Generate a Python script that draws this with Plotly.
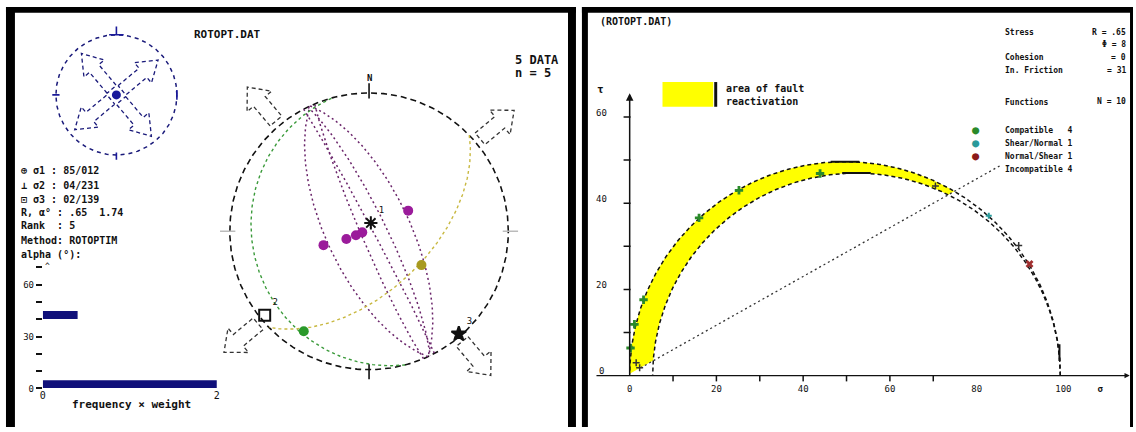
import numpy as np
import plotly.graph_objects as go

W, H = 1136, 432
def PX(x): return x / W
def PY(y): return 1 - y / H

# ---------------- DATA ----------------
# stereonet: fault planes (dip direction, dip) in degrees
magenta_dipdir = [65, 62, 247, 245, 64]
magenta_dip = [66, 88, 85, 65, 80]
green_plane_dipdir, green_plane_dip = 255, 17
yellow_plane_dipdir, yellow_plane_dip = 136, 55
# slip lines (trend, plunge)
magenta_pt_trend = [62, 253, 251, 261, 253]
magenta_pt_plunge = [64, 82, 76, 86, 62]
green_pt_trend, green_pt_plunge = [213], [15]
olive_pt_trend, olive_pt_plunge = [123], [53]
# principal stress axes (trend, plunge)
stress_names = ["1", "2", "3"]
stress_trend = [12, 231, 139]
stress_plunge = [85, 4, 2]
# horizontal stress arrows (azimuths)
arrow_az = [320, 50, 230, 140]

# histogram of misfit angle
hist_alpha = [2.5, 42.5]
hist_freq = [2.0, 0.4]
hist_yticks = [0, 10, 20, 30, 40, 50, 60, 70]
hist_yticktext = ["0", "", "", "30", "", "", "60", ""]

# Mohr diagram
sigma3, sigma1 = 0.0, 99.3
sigma_inner = 5.3
friction_mu, cohesion = 0.566, 0.37
friction_x = [2.5, 85.5]
compat_sn = [0.2, 1.1, 3.2, 16.0, 25.2, 43.9]
compat_tau = [6.4, 11.9, 17.6, 36.6, 43.0, 46.9]
shearnorm_sn, shearnorm_tau = [82.8], [37.1]
normshear_sn, normshear_tau = [92.2], [25.9]
incompat_sn = [89.7, 2.3, 1.5, 70.5]
incompat_tau = [30.2, 1.8, 3.0, 44.0]
mohr_xticks = [10, 20, 30, 40, 50, 60, 70]
mohr_yticks = [10, 20, 30, 40, 50, 60]
mohr_xlabels = [0, 20, 40, 60, 80, 100]
mohr_ylabels = [0, 20, 40, 60]
legend_labels = ["Compatible   4", "Shear/Normal 1", "Normal/Shear 1", "Incompatible 4"]
legend_colors = ["#2a8a2a", "#2a9a9a", "#8b1a1a", None]

text_block = ["⊕ σ1 : 85/012", "⊥ σ2 : 04/231", "⊡ σ3 : 02/139",
              "R, α° : .65  1.74", "Rank  : 5", "Method: ROTOPTIM", "alpha (°):"]
text_block_y = [173, 188, 202, 215, 228, 243, 257]
stats_left = ["Stress", "", "Cohesion", "In. Friction", "Functions"]
stats_right = ["R = .65", "Φ = 8", "= 0", "= 31", "N = 10"]
stats_y = [33, 45, 58, 71, 103]

# ---------------- geometry helpers ----------------
def proj(trend, plunge):
    t = np.radians(np.asarray(trend, float)); p = np.radians(np.asarray(plunge, float))
    r = np.sqrt(2) * np.sin((np.pi / 2 - p) / 2)
    return r * np.sin(t), r * np.cos(t)

def great_circle(dd, dip, n=181):
    t = np.linspace(0, np.pi, n)
    d, q = np.radians(dd), np.radians(dip)
    sE, sN = np.sin(d - np.pi / 2), np.cos(d - np.pi / 2)
    dE, dN, dD = np.sin(d) * np.cos(q), np.cos(d) * np.cos(q), np.sin(q)
    E = np.cos(t) * sE + np.sin(t) * dE
    N = np.cos(t) * sN + np.sin(t) * dN
    D = np.sin(t) * dD
    tr = np.degrees(np.arctan2(E, N)); pl = np.degrees(np.arcsin(np.clip(D, -1, 1)))
    return proj(tr, pl)

def block_arrow(az, r0, r1, w, hw):
    L = r1 - r0
    u = np.array([0, 0.58 * L, 0.58 * L, L, 0.58 * L, 0.58 * L, 0, 0]) + r0
    v = np.array([-w, -w, -hw, 0, hw, w, w, -w])
    a = np.radians(az)
    x = u * np.sin(a) + v * np.cos(a)
    y = u * np.cos(a) - v * np.sin(a)
    return x, y

fig = go.Figure()
STEREO = dict(xaxis="x", yaxis="y")
SMALL = dict(xaxis="x2", yaxis="y2")
HIST = dict(xaxis="x3", yaxis="y3")
MOHR = dict(xaxis="x4", yaxis="y4")
th = np.linspace(0, 2 * np.pi, 361)

# ---------------- stereonet ----------------
fig.add_trace(go.Scatter(x=np.cos(th), y=np.sin(th), mode="lines",
                         line=dict(color="#111", width=1.6, dash="6px,4px"), **STEREO))
for dd, dp in zip(magenta_dipdir, magenta_dip):
    x, y = great_circle(dd, dp)
    fig.add_trace(go.Scatter(x=x, y=y, mode="lines",
                             line=dict(color="#6a246a", width=1.5, dash="2px,3px"), **STEREO))
x, y = great_circle(green_plane_dipdir, green_plane_dip)
fig.add_trace(go.Scatter(x=x, y=y, mode="lines", line=dict(color="#3a9a3a", width=1.4, dash="3px,3px"), **STEREO))
x, y = great_circle(yellow_plane_dipdir, yellow_plane_dip)
fig.add_trace(go.Scatter(x=x, y=y, mode="lines", line=dict(color="#c8b840", width=1.4, dash="3px,3px"), **STEREO))
# arrows
for az in arrow_az:
    x, y = block_arrow(az, 1.04, 1.36, 0.055, 0.115)
    fig.add_trace(go.Scatter(x=x, y=y, mode="lines",
                             line=dict(color="#333", width=1.3, dash="4px,3px"), **STEREO))
# N / S / E / W ticks
for az in [0, 180, 90, 270]:
    a = np.radians(az)
    col = "#111" if az in (0, 180) else "#bbb"
    fig.add_trace(go.Scatter(x=[0.96 * np.sin(a), 1.07 * np.sin(a)], y=[0.96 * np.cos(a), 1.07 * np.cos(a)],
                             mode="lines", line=dict(color=col, width=1.6), **STEREO))
# points
x, y = proj(magenta_pt_trend, magenta_pt_plunge)
fig.add_trace(go.Scatter(x=x, y=y, mode="markers", marker=dict(color="#9b1b9b", size=10), **STEREO))
x, y = proj(green_pt_trend, green_pt_plunge)
fig.add_trace(go.Scatter(x=x, y=y, mode="markers", marker=dict(color="#2a9a2a", size=10), **STEREO))
x, y = proj(olive_pt_trend, olive_pt_plunge)
fig.add_trace(go.Scatter(x=x, y=y, mode="markers", marker=dict(color="#a89a20", size=10), **STEREO))
x, y = proj(stress_trend, stress_plunge)
fig.add_trace(go.Scatter(x=x, y=y, mode="markers+text", text=stress_names, textposition="top right",
                         textfont=dict(size=9, color="#111", family="DejaVu Sans Mono"),
                         marker=dict(color="#111", size=11, symbol=["asterisk-open", "square-open", "star"],
                                     line=dict(width=2, color="#111")), **STEREO))

# ---------------- small circle ----------------
fig.add_trace(go.Scatter(x=np.cos(th), y=np.sin(th), mode="lines",
                         line=dict(color="#1a1a7a", width=1.5, dash="4px,4px"), **SMALL))
for az in arrow_az:
    x, y = block_arrow(az, 0.12, 0.9, 0.1, 0.22)
    fig.add_trace(go.Scatter(x=x, y=y, mode="lines",
                             line=dict(color="#1a1a7a", width=1.3, dash="4px,3px"), **SMALL))
fig.add_trace(go.Scatter(x=[0], y=[0], mode="markers", marker=dict(color="#1a1a9a", size=9), **SMALL))
fig.add_trace(go.Scatter(x=[-0.12, 0.12, None, 0, 0, None, 1.0, 1.0, None, 0, 0, None, -1.06, -0.94],
                         y=[1.0, 1.0, None, 1.0, 1.14, None, -0.08, 0.08, None, -0.96, -1.08, None, 0, 0],
                         mode="lines", line=dict(color="#1a1a9a", width=1.6), **SMALL))

# ---------------- histogram ----------------
fig.add_trace(go.Bar(x=hist_freq, y=hist_alpha, orientation="h", width=4.6,
                     marker=dict(color="#10107a", line=dict(width=0)), **HIST))

# ---------------- Mohr ----------------
c_o, r_o = (sigma1 + sigma3) / 2, (sigma1 - sigma3) / 2
c_i, r_i = (sigma1 + sigma_inner) / 2, (sigma1 - sigma_inner) / 2
tt = np.linspace(0, np.pi, 721)
xo, yo = c_o + r_o * np.cos(tt), r_o * np.sin(tt)
xi, yi = c_i + r_i * np.cos(tt), r_i * np.sin(tt)
mo = yo >= friction_mu * xo + cohesion
mi = yi >= friction_mu * xi + cohesion
fig.add_trace(go.Scatter(x=np.r_[xo[mo], xi[mi][::-1]], y=np.r_[yo[mo], yi[mi][::-1]], fill="toself",
                         fillcolor="#ffff00", mode="none", **MOHR))
fig.add_trace(go.Scatter(x=xo, y=yo, mode="lines", line=dict(color="#111", width=1.5, dash="4px,3px"), **MOHR))
fig.add_trace(go.Scatter(x=xi, y=yi, mode="lines", line=dict(color="#111", width=1.5, dash="4px,3px"), **MOHR))
fx = np.array(friction_x)
fig.add_trace(go.Scatter(x=fx, y=friction_mu * fx + cohesion, mode="lines",
                         line=dict(color="#333", width=1.3, dash="2px,3px"), **MOHR))
fig.add_trace(go.Scatter(x=[c_o - 3.3, c_o + 3.3, None, c_i - 3.3, c_i + 3.3, None, sigma1 - 0.2, sigma1 - 0.2],
                         y=[r_o, r_o, None, r_i, r_i, None, 3.4, 7.3], mode="lines",
                         line=dict(color="#111", width=2), **MOHR))
fig.add_trace(go.Scatter(x=compat_sn, y=compat_tau, mode="markers",
                         marker=dict(color="#2a8a2a", size=7, symbol="cross"), **MOHR))
fig.add_trace(go.Scatter(x=shearnorm_sn, y=shearnorm_tau, mode="markers",
                         marker=dict(color="#2a9a9a", size=5, symbol="cross"), **MOHR))
fig.add_trace(go.Scatter(x=normshear_sn, y=normshear_tau, mode="markers",
                         marker=dict(color="#a03030", size=7, symbol="x"), **MOHR))
fig.add_trace(go.Scatter(x=incompat_sn, y=incompat_tau, mode="markers",
                         marker=dict(color="#333", size=5, symbol="cross-thin-open", line=dict(width=1.5, color="#333")), **MOHR))
fig.add_trace(go.Scatter(x=mohr_xticks, y=[-0.75] * len(mohr_xticks), mode="markers",
                         marker=dict(symbol="line-ns", size=4, line=dict(width=1.5, color="#111")), **MOHR))
fig.add_trace(go.Scatter(x=[-0.6] * len(mohr_yticks), y=mohr_yticks, mode="markers",
                         marker=dict(symbol="line-ew", size=5, line=dict(width=1.5, color="#111")), **MOHR))

# ---------------- annotations ----------------
ann = []
MONO = "DejaVu Sans Mono"
def txt(x, y, s, size=9, anchor="left", color="#111", bold=False, family=MONO):
    ann.append(dict(x=PX(x), y=PY(y), xref="paper", yref="paper", text=("<b>%s</b>" % s) if bold else s,
                    showarrow=False, xanchor=anchor, yanchor="middle",
                    font=dict(size=size, color=color, family=family)))

txt(190, 35, "ROTOPT.DAT", 11, bold=True)
txt(513, 61, "5 DATA", 12, bold=True)
txt(513, 74, "n = 5", 12, bold=True)
for s, yy in zip(text_block, text_block_y):
    txt(16, yy, s, 10, bold=True)
txt(67, 409, "frequency × weight", 11, bold=True)
txt(40, 270, "^", 8)
txt(368, 79, "N", 9, anchor="center", bold=True)

txt(598, 22, "(ROTOPT.DAT)", 10, bold=True)
txt(725, 90, "area of fault", 10, bold=True)
txt(725, 103, "reactivation", 10, bold=True)
for a, b, yy in zip(stats_left, stats_right, stats_y):
    txt(1005, yy, a, 8, bold=True)
    txt(1131, yy, b, 8, anchor="right", bold=True)
for lab, col, i in zip(legend_labels, legend_colors, range(4)):
    yy = 132 + 13 * i
    if col:
        txt(978, yy, "●", 12, anchor="center", color=col)
    txt(1005, yy, lab, 8, bold=True)

# Mohr y tick labels (data coords, inside range)
for v in mohr_ylabels:
    ann.append(dict(x=-6.5, y=v + 1.0, xref="x4", yref="y4", text=str(v), showarrow=False,
                    font=dict(size=9, family=MONO, color="#111")))
ann.append(dict(x=-6.8, y=66.5, xref="x4", yref="y4", text="<b>τ</b>", showarrow=False,
                font=dict(size=11, family=MONO, color="#111")))
# axis arrows
ann.append(dict(x=0, y=65.5, ax=0, ay=0, xref="x4", yref="y4", axref="x4", ayref="y4", text="",
                showarrow=True, arrowhead=2, arrowsize=1, arrowwidth=1.5, arrowcolor="#111"))
ann.append(dict(x=115.3, y=0, ax=-8, ay=0, xref="x4", yref="y4", axref="x4", ayref="y4", text="",
                showarrow=True, arrowhead=2, arrowsize=0.8, arrowwidth=1.3, arrowcolor="#111"))

# ---------------- frames ----------------
shapes = []
def rect(x0, y0, x1, y1, color="#000", line=None):
    d = dict(type="rect", xref="paper", yref="paper", x0=PX(x0), x1=PX(x1), y0=PY(y1), y1=PY(y0),
             fillcolor=color, layer="above")
    d["line"] = dict(width=0) if line is None else line
    shapes.append(d)
rect(3, 7, 12, 432)
rect(3, 7, 576, 13)
rect(568, 7, 576, 432)
rect(582, 7, 588, 432)
rect(582, 7, 1136, 13)
rect(1133, 7, 1136, 432)
# legend swatch
rect(663, 83, 714, 108, "#ffff00")
rect(715, 83, 718, 108, "#111")

def ax(dom, rng, anchor, visible=False, **kw):
    d = dict(domain=dom, range=rng, anchor=anchor, visible=visible, showgrid=False, zeroline=False,
             fixedrange=True)
    d.update(kw)
    return d

fig.update_layout(
    width=W, height=H, margin=dict(l=0, r=0, t=0, b=0), paper_bgcolor="white", plot_bgcolor="rgba(0,0,0,0)",
    showlegend=False,
    xaxis=ax([PX(200), PX(536)], [-1.2, 1.2], "y"),
    yaxis=ax([PY(402), PY(66)], [-1.2, 1.2], "x"),
    xaxis2=ax([PX(38), PX(190)], [-1.25, 1.25], "y2"),
    yaxis2=ax([PY(172), PY(20)], [-1.25, 1.25], "x2"),
    xaxis3=ax([PX(40), PX(215)], [0, 2], "y3", visible=True, tickvals=[0, 2], ticktext=["0", "2"],
              ticks="", showline=False, tickfont=dict(size=10, family=MONO, color="#111")),
    yaxis3=ax([PY(393), PY(270)], [0, 70.3], "x3", visible=True, tickvals=hist_yticks, ticktext=hist_yticktext,
              ticks="outside", ticklen=6, tickwidth=2, tickcolor="#111", showline=False,
              tickfont=dict(size=9, family=MONO, color="#111")),
    xaxis4=ax([PX(590), PX(1134)], [-9.174, 115.596], "y4", visible=True,
              tickvals=mohr_xlabels + [108.5], ticktext=[str(v) for v in mohr_xlabels] + ["<b>σ</b>"],
              ticks="", showline=False, tickfont=dict(size=9, family=MONO, color="#111")),
    yaxis4=ax([PY(386), PY(80)], [-1.376, 68.807], "x4"),
    annotations=ann, shapes=shapes,
)
fig.write_html("out.html", config={"displayModeBar": False},
               post_script="document.body.style.margin='0';document.body.style.overflow='hidden';")
